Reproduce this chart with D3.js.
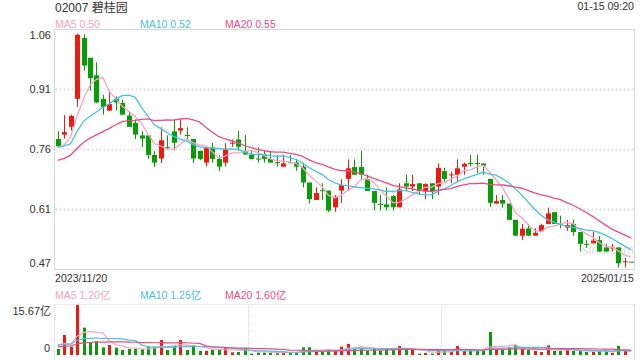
<!DOCTYPE html>
<html>
<head>
  <meta charset="utf-8">
  <script src="https://d3js.org/d3.v7.min.js"></script>
  <style>
    body {
      margin: 0;
      background: #fff;
      font-family: "Liberation Sans", Arial, "Noto Sans CJK SC", sans-serif;
    }
  </style>
</head>
<body>
  <div id="chart"></div>
  <script>
    // daily candles, 2023/11/20 .. 2025/01/15 (last one is the 09:20 pre-open)
    var opens = [0.787, 0.798, 0.817, 0.886, 1.036, 0.987, 0.944, 0.886, 0.857, 0.886,
      0.876, 0.845, 0.827, 0.796, 0.796, 0.748, 0.739, 0.767, 0.806, 0.808,
      0.797, 0.787, 0.758, 0.729, 0.766, 0.738, 0.729, 0.776, 0.786, 0.758,
      0.748, 0.739, 0.748, 0.738, 0.730, 0.719, 0.730, 0.729, 0.719, 0.680,
      0.637, 0.661, 0.660, 0.619, 0.660, 0.689, 0.718, 0.718, 0.689, 0.659,
      0.627, 0.626, 0.647, 0.619, 0.678, 0.670, 0.678, 0.659, 0.678, 0.670,
      0.708, 0.698, 0.699, 0.719, 0.728, 0.728, 0.727, 0.689, 0.628, 0.637,
      0.628, 0.588, 0.549, 0.567, 0.549, 0.560, 0.578, 0.607, 0.579, 0.569,
      0.578, 0.558, 0.529, 0.530, 0.538, 0.520, 0.519, 0.520, 0.484, 0.485];
    var highs = [0.806, 0.846, 0.847, 1.046, 1.045, 0.987, 0.976, 0.896, 0.905, 0.892,
      0.884, 0.855, 0.835, 0.806, 0.796, 0.757, 0.816, 0.796, 0.835, 0.835,
      0.816, 0.787, 0.758, 0.766, 0.777, 0.748, 0.777, 0.786, 0.807, 0.797,
      0.758, 0.767, 0.758, 0.758, 0.748, 0.748, 0.748, 0.738, 0.729, 0.680,
      0.668, 0.678, 0.660, 0.649, 0.688, 0.737, 0.737, 0.758, 0.699, 0.659,
      0.649, 0.668, 0.649, 0.678, 0.699, 0.699, 0.678, 0.678, 0.678, 0.727,
      0.716, 0.707, 0.737, 0.729, 0.748, 0.748, 0.727, 0.689, 0.649, 0.649,
      0.628, 0.588, 0.578, 0.578, 0.567, 0.578, 0.618, 0.607, 0.598, 0.588,
      0.588, 0.558, 0.538, 0.559, 0.548, 0.529, 0.529, 0.520, 0.494, 0.485];
    var lows = [0.767, 0.788, 0.808, 0.867, 0.955, 0.906, 0.875, 0.847, 0.857, 0.857,
      0.847, 0.817, 0.787, 0.767, 0.738, 0.718, 0.728, 0.761, 0.759, 0.798,
      0.787, 0.728, 0.735, 0.719, 0.729, 0.708, 0.719, 0.768, 0.758, 0.749,
      0.738, 0.729, 0.729, 0.729, 0.719, 0.719, 0.728, 0.709, 0.668, 0.629,
      0.637, 0.637, 0.607, 0.608, 0.630, 0.659, 0.699, 0.689, 0.659, 0.611,
      0.611, 0.611, 0.611, 0.619, 0.659, 0.659, 0.649, 0.639, 0.639, 0.649,
      0.682, 0.678, 0.680, 0.699, 0.719, 0.703, 0.699, 0.620, 0.628, 0.618,
      0.588, 0.549, 0.538, 0.549, 0.549, 0.560, 0.578, 0.578, 0.567, 0.561,
      0.549, 0.510, 0.519, 0.530, 0.510, 0.510, 0.510, 0.471, 0.471, 0.485];
    var closes = [0.769, 0.804, 0.844, 1.044, 0.968, 0.937, 0.877, 0.866, 0.873, 0.877,
      0.847, 0.817, 0.798, 0.788, 0.748, 0.729, 0.784, 0.766, 0.778, 0.814,
      0.795, 0.739, 0.738, 0.766, 0.738, 0.719, 0.763, 0.778, 0.768, 0.749,
      0.738, 0.737, 0.738, 0.729, 0.728, 0.727, 0.728, 0.719, 0.680, 0.639,
      0.654, 0.659, 0.611, 0.645, 0.674, 0.715, 0.699, 0.699, 0.659, 0.630,
      0.625, 0.619, 0.619, 0.663, 0.670, 0.676, 0.659, 0.676, 0.659, 0.716,
      0.689, 0.700, 0.715, 0.726, 0.726, 0.726, 0.721, 0.630, 0.634, 0.628,
      0.588, 0.549, 0.566, 0.549, 0.556, 0.575, 0.604, 0.578, 0.577, 0.575,
      0.558, 0.529, 0.528, 0.537, 0.510, 0.510, 0.520, 0.481, 0.486, 0.485];
    // volume, 亿
    var volumes = [1.88, 6.27, 2.61, 15.67, 8.57, 3.87, 4.39, 2.40, 3.13, 2.30,
      1.57, 1.88, 1.88, 1.78, 2.61, 2.61, 4.70, 1.57, 2.82, 4.70,
      1.57, 3.03, 1.25, 1.25, 1.78, 1.57, 2.40, 0.84, 0.94, 2.09,
      0.42, 0.73, 0.73, 0.73, 0.73, 0.73, 0.73, 0.73, 2.40, 2.40,
      1.25, 1.04, 1.57, 1.57, 2.61, 3.45, 1.88, 2.61, 1.36, 2.09,
      1.25, 1.78, 1.78, 2.82, 1.57, 1.57, 0.42, 0.63, 0.42, 1.57,
      1.57, 1.04, 2.82, 1.25, 1.57, 1.57, 1.25, 7.21, 1.88, 1.57,
      2.40, 3.13, 1.88, 1.57, 1.25, 0.94, 3.03, 1.25, 1.25, 1.57,
      1.25, 1.57, 0.94, 0.94, 1.25, 1.25, 0.63, 2.82, 1.25, 0];
    // the 19 sessions before the window, estimated from where the MA lines start
    var prevCloses = [0.700, 0.688, 0.704, 0.688, 0.717, 0.717, 0.706, 0.713, 0.700, 0.700,
      0.760, 0.790, 0.740, 0.720, 0.810, 0.775, 0.749, 0.789, 0.754];
    var prevVolumes = [2.1, 1.8, 2.4, 2.0, 1.6, 2.2, 1.9, 2.5, 2.0, 1.7,
      3.0, 2.6, 4.1, 3.2, 2.8, 3.5, 4.0, 3.1, 2.9];

    var priceTicks = ["1.06", "0.91", "0.76", "0.61", "0.47"];
    var maPeriods = [5, 10, 20];
    var maPriceLabels = ["0.50", "0.52", "0.55"];
    var maVolLabels = ["1.20亿", "1.25亿", "1.60亿"];
    var dateLabels = ["2023/11/20", "2025/01/15"];

    var W = 640, H = 360;
    var left = 54.5, right = 634.5;
    var red = "#f2180f", green = "#079d07";
    var maColors = ["#f7a3c2", "#45c3e3", "#ee4a81"];

    var svg = d3.select("#chart").append("svg")
      .attr("width", W).attr("height", H)
      .style("display", "block");

    var n = closes.length;
    var x = d3.scaleBand().domain(d3.range(n)).range([left, right]);
    var cx = i => x(i) + x.bandwidth() / 2;

    var y = d3.scaleLinear().domain([0.467, 1.058]).range([269, 29]);
    var yv = d3.scaleLinear().domain([0, 15.67]).range([355, 305]);

    function movingAvg(prev, vals, p) {
      var all = prev.concat(vals);
      return vals.map((v, i) => d3.mean(all.slice(i + prev.length - p + 1, i + prev.length + 1)));
    }

    var txt = "#333";

    // header
    svg.append("text").attr("x", 55).attr("y", 11.5)
      .attr("font-size", 12).attr("fill", txt).text("02007 碧桂园");
    svg.append("text").attr("x", 634).attr("y", 10).attr("text-anchor", "end")
      .attr("font-size", 10.6).attr("fill", txt).text("01-15 09:20");

    maPeriods.forEach((p, k) => {
      svg.append("text").attr("x", 55 + k * 85).attr("y", 28)
        .attr("font-size", 10.5).attr("fill", maColors[k])
        .text("MA" + p + " " + maPriceLabels[k]);
      svg.append("text").attr("x", 55 + k * 85).attr("y", 299)
        .attr("font-size", 10.5).attr("fill", maColors[k])
        .text("MA" + p + " " + maVolLabels[k]);
    });

    // price panel frame + grid
    var yTickVals = d3.range(5).map(k => y.invert(29 + k * 60));
    svg.selectAll(".grid").data(yTickVals.slice(1, 4)).enter().append("line")
      .attr("x1", left + 1).attr("x2", right - 1)
      .attr("y1", d => Math.round(y(d)) + 0.5).attr("y2", d => Math.round(y(d)) + 0.5)
      .attr("stroke", "#e4e4e4").attr("stroke-width", 2).attr("stroke-dasharray", "2,2");
    svg.append("rect").attr("x", left).attr("y", 29.5).attr("width", right - left).attr("height", 240)
      .attr("fill", "none").attr("stroke", "#d8d8d8");

    svg.selectAll(".ylab").data(yTickVals).enter().append("text")
      .attr("x", 51).attr("y", (d, k) => k == 0 ? 39 : k == 4 ? 267 : y(d) + 4)
      .attr("text-anchor", "end").attr("font-size", 11).attr("fill", txt)
      .text((d, k) => priceTicks[k]);

    svg.append("text").attr("x", 55).attr("y", 281.5).attr("font-size", 10.6).attr("fill", txt).text(dateLabels[0]);
    svg.append("text").attr("x", 634).attr("y", 281.5).attr("text-anchor", "end")
      .attr("font-size", 10.6).attr("fill", txt).text(dateLabels[1]);

    // watermark
    svg.append("text").attr("x", 582).attr("y", 254).attr("font-size", 13)
      .attr("fill", "#cfcfcf").attr("opacity", 0.7).text("sina.com");

    // candles
    var data = d3.range(n).map(i => ({ i: i, o: opens[i], h: highs[i], l: lows[i], c: closes[i], v: volumes[i] }));
    var col = d => d.c > d.o ? red : green;

    var candle = svg.append("g").selectAll("g").data(data).enter().append("g");
    candle.append("line")
      .attr("x1", d => Math.round(cx(d.i)) + 0.5).attr("x2", d => Math.round(cx(d.i)) + 0.5)
      .attr("y1", d => y(d.h)).attr("y2", d => y(d.l))
      .attr("stroke", col);
    candle.append("rect")
      .attr("x", d => Math.round(cx(d.i)) - 2).attr("width", 5)
      .attr("y", d => Math.min(y(d.o), y(d.c)))
      .attr("height", d => Math.max(1, Math.abs(y(d.o) - y(d.c))))
      .attr("fill", col);

    var line = d3.line().x((d, i) => cx(i)).y(d => y(d));
    maPeriods.forEach((p, k) => {
      svg.append("path").datum(movingAvg(prevCloses, closes, p))
        .attr("d", line).attr("fill", "none")
        .attr("stroke", maColors[k]).attr("stroke-width", 1.3);
    });

    // volume panel
    svg.append("line").attr("x1", left).attr("x2", right).attr("y1", 304.5).attr("y2", 304.5)
      .attr("stroke", "#d8d8d8").attr("stroke-dasharray", "1,1");
    [left, 248.5, 441.5].forEach(xx => {
      svg.append("line").attr("x1", xx).attr("x2", xx).attr("y1", 305).attr("y2", 360)
        .attr("stroke", "#d8d8d8").attr("stroke-dasharray", "1,1");
    });
    svg.append("line").attr("x1", right).attr("x2", right).attr("y1", 304).attr("y2", 360)
      .attr("stroke", "#d8d8d8");

    svg.append("text").attr("x", 51).attr("y", 315).attr("text-anchor", "end")
      .attr("font-size", 11).attr("fill", txt).text(d3.format(".2f")(yv.domain()[1]) + "亿");
    svg.append("text").attr("x", 50).attr("y", 352).attr("text-anchor", "end")
      .attr("font-size", 11).attr("fill", txt).text("0");

    svg.append("g").selectAll("rect").data(data.filter(d => d.v > 0)).enter().append("rect")
      .attr("x", d => Math.round(cx(d.i)) - 1).attr("width", 3)
      .attr("y", d => yv(d.v)).attr("height", d => yv(0) - yv(d.v))
      .attr("fill", col);

    var vline = d3.line().x((d, i) => cx(i)).y(d => yv(d));
    maPeriods.forEach((p, k) => {
      svg.append("path").datum(movingAvg(prevVolumes, volumes, p))
        .attr("d", vline).attr("fill", "none")
        .attr("stroke", maColors[k]).attr("stroke-width", 1.2);
    });
  </script>
</body>
</html>
